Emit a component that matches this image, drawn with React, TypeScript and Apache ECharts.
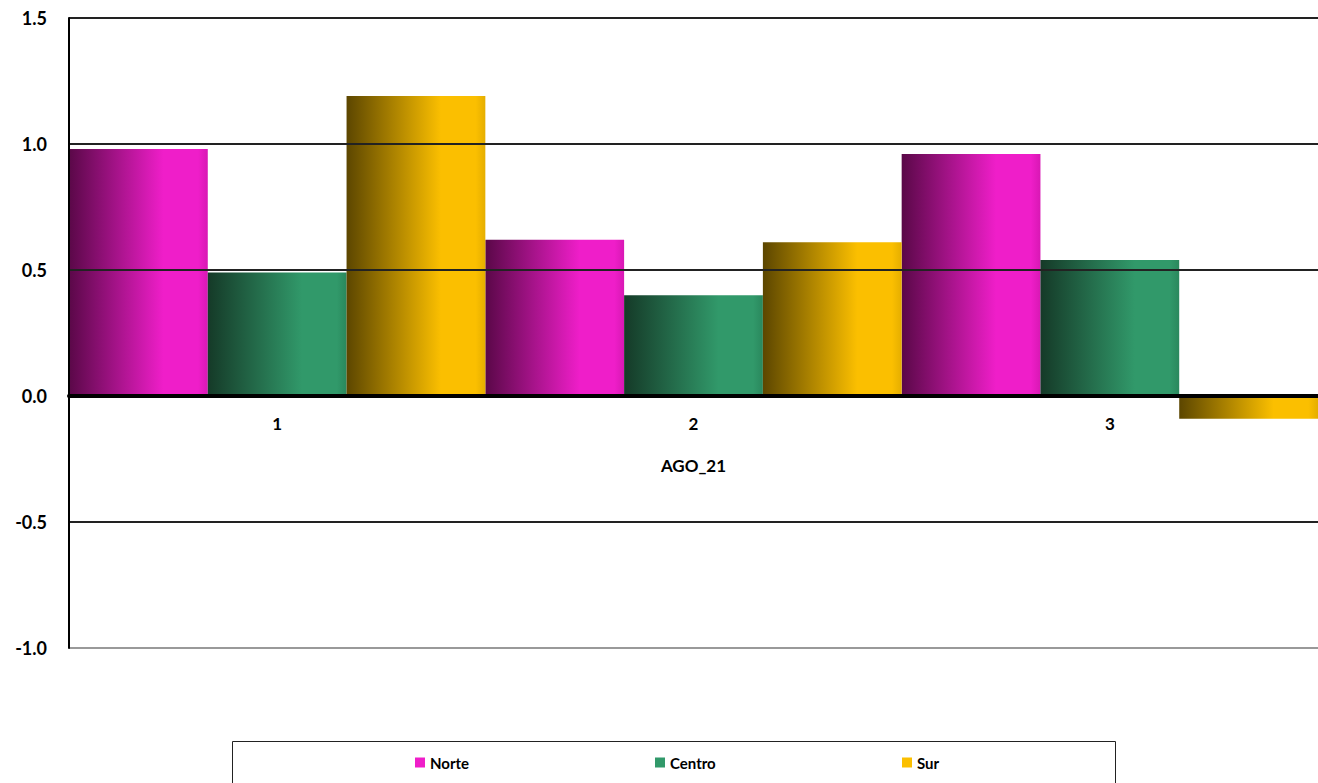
import React, { useEffect, useRef } from "react";
import * as echarts from "echarts";

const categories = ["1", "2", "3"];
const seriesNames = ["Norte", "Centro", "Sur"];
const norteValues = [0.98, 0.62, 0.96];
const centroValues = [0.49, 0.4, 0.54];
const surValues = [1.19, 0.61, -0.09];
const xAxisTitle = "AGO_21";

const grad = (dark: string, bright: string, edge: string) =>
  new echarts.graphic.LinearGradient(0, 0, 1, 0, [
    { offset: 0, color: dark },
    { offset: 0.68, color: bright },
    { offset: 0.93, color: bright },
    { offset: 1, color: edge },
  ]);

export default function App() {
  const ref = useRef<HTMLDivElement>(null);
  useEffect(() => {
    if (!ref.current) return;
    const chart = echarts.init(ref.current, null, { renderer: "svg" });
    const font = "Lato, 'Open Sans', sans-serif";
    const fills = [
      { g: grad("#5a0848", "#ef1ec9", "#d818b4"), c: "#ef1ec9" },
      { g: grad("#153a28", "#31996a", "#2a885d"), c: "#31996a" },
      { g: grad("#5c4600", "#fbbf00", "#e5ae00"), c: "#fbbf00" },
    ];
    const data = [norteValues, centroValues, surValues];
    const legendLefts = [415, 655, 902];
    chart.setOption({
      animation: false,
      textStyle: { fontFamily: font },
      grid: { left: 69, top: 18, width: 1249, height: 630, containLabel: false },
      legend: seriesNames.map((n, i) => ({
        left: legendLefts[i],
        top: 755,
        padding: 0,
        itemWidth: 10,
        itemHeight: 10,
        icon: "rect",
        textStyle: { fontFamily: font, fontSize: 15, fontWeight: "bold", color: "#000" },
        data: [{ name: n, itemStyle: { color: fills[i].c } }],
      })),
      graphic: [
        {
          type: "rect",
          shape: { x: 232.5, y: 741.5, width: 883, height: 60 },
          style: { fill: "none", stroke: "#222", lineWidth: 1 },
          silent: true,
        },
      ],
      xAxis: {
        type: "category",
        data: categories,
        position: "bottom",
        offset: -252,
        z: 5,
        name: xAxisTitle,
        nameLocation: "middle",
        nameGap: 61,
        nameTextStyle: { fontFamily: font, fontSize: 17, fontWeight: "bold", color: "#000" },
        axisLine: { onZero: false, lineStyle: { color: "#000", width: 4 } },
        axisTick: { show: false },
        axisLabel: { fontFamily: font, fontSize: 17, fontWeight: "bold", color: "#000", margin: 19 },
      },
      yAxis: {
        type: "value",
        min: -1,
        max: 1.5,
        interval: 0.5,
        z: 5,
        axisLine: { show: true, lineStyle: { color: "#000", width: 2 } },
        axisTick: { show: false },
        axisLabel: {
          fontFamily: font,
          fontSize: 18,
          fontWeight: "bold",
          color: "#000",
          margin: 22,
          formatter: (v: number) => v.toFixed(1),
        },
        splitLine: {
          show: true,
          lineStyle: { color: ["#999", "#222", "#222", "#222", "#222", "#222"], width: 2 },
        },
      },
      series: seriesNames.map((n, i) => ({
        name: n,
        type: "bar",
        data: data[i],
        barGap: "0%",
        barCategoryGap: "0%",
        itemStyle: { color: fills[i].g },
      })),
    });
    return () => chart.dispose();
  }, []);
  return (
    <div
      ref={ref}
      style={{ position: "absolute", left: 0, top: 0, width: 1318, height: 783, background: "#fff" }}
    />
  );
}
